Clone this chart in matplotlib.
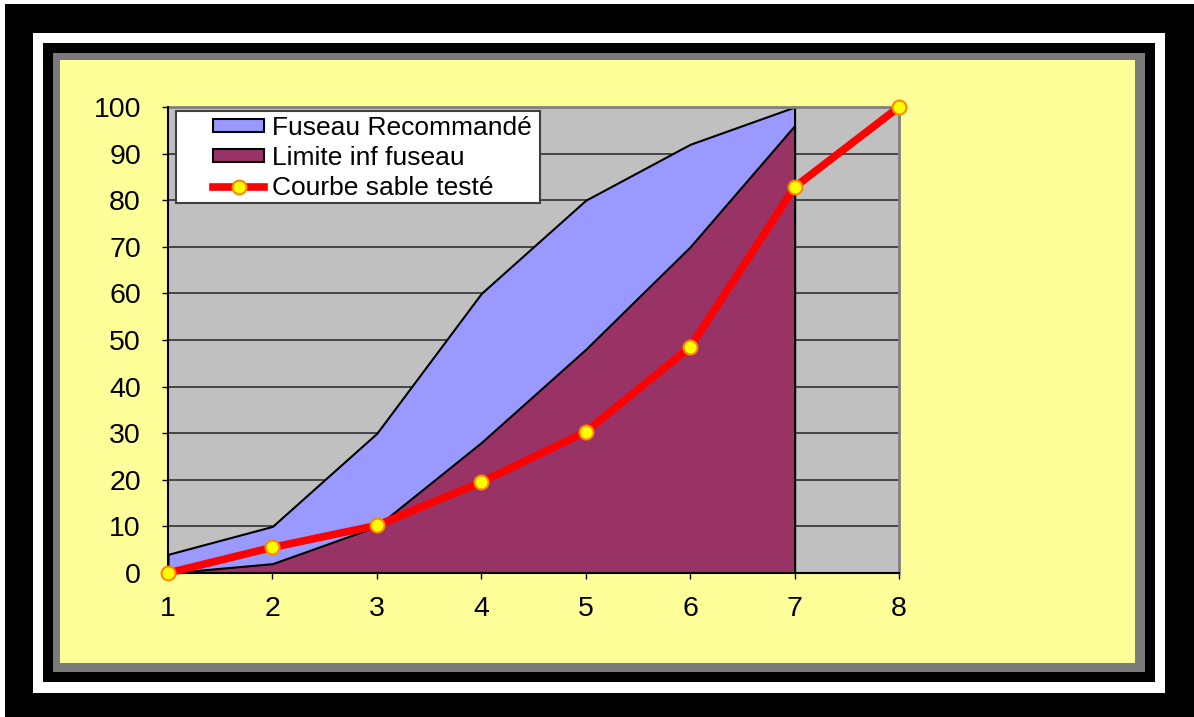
import matplotlib.pyplot as plt
from matplotlib.patches import Rectangle

# valeurs
x = [1, 2, 3, 4, 5, 6, 7, 8]
fuseau_sup = [4, 10, 30, 60, 80, 92, 100]
fuseau_inf = [0, 2, 10, 28, 48, 70, 96]
sable = [0, 5.5, 10.2, 19.5, 30.3, 48.5, 82.8, 100]
yticks = list(range(0, 101, 10))

plt.rcParams['font.family'] = ['Liberation Sans', 'DejaVu Sans']

W, H = 1194, 717
fig = plt.figure(figsize=(W / 100, H / 100), dpi=100, facecolor='white')


def cadre(x0, y0, x1, y1, color):
    # coordonnées en pixels, origine en haut à gauche
    fig.patches.append(Rectangle((x0 / W, 1 - y1 / H), (x1 - x0) / W, (y1 - y0) / H,
                                 transform=fig.transFigure, facecolor=color,
                                 edgecolor='none', zorder=-10))


cadre(5, 4, 1194, 717, 'black')
cadre(33, 33, 1165, 693, 'white')
cadre(43, 43, 1155, 682, 'black')
cadre(53, 53, 1145, 672, '#7a7a7a')
cadre(60, 60, 1135, 663, '#FFFF99')

ax = fig.add_axes([168 / W, 1 - 573 / H, (899 - 168) / W, (573 - 107) / H])
ax.set_facecolor('#C0C0C0')
ax.set_xlim(1, 8)
ax.set_ylim(0, 100)

for v in yticks[1:-1]:
    ax.axhline(v, color='#303030', lw=1.2, zorder=1)

ax.fill_between(x[:7], fuseau_sup, 0, facecolor='#9999FF', edgecolor='black',
                lw=1.5, zorder=2, label='Fuseau Recommandé')
ax.fill_between(x[:7], fuseau_inf, 0, facecolor='#993366', edgecolor='black',
                lw=1.5, zorder=3, label='Limite inf fuseau')
ax.plot(x, sable, color='#FF0000', lw=5.5, marker='o', markersize=10,
        markerfacecolor='#FFFF00', markeredgecolor='#FF8800', markeredgewidth=1.5,
        zorder=5, clip_on=False, label='Courbe sable testé')

ax.set_xticks(x)
ax.set_yticks(yticks)
ax.tick_params(axis='y', direction='out', length=4.5, width=1, pad=15, labelsize=20.5)
ax.tick_params(axis='x', direction='out', length=4.5, width=1, pad=12, labelsize=20.5)
for s in ['top', 'right']:
    ax.spines[s].set_color('#808080')
    ax.spines[s].set_linewidth(2)
for s in ['left', 'bottom']:
    ax.spines[s].set_color('black')
    ax.spines[s].set_linewidth(1.5)
    ax.spines[s].set_zorder(4)

# boîte de la légende
ax.add_patch(Rectangle(((176 - 168) / 731, (573 - 203) / 466), (540 - 176) / 731, (203 - 111) / 466,
                       transform=ax.transAxes, facecolor='white', edgecolor='#404040',
                       lw=1.5, zorder=6))
leg = ax.legend(loc='upper left', bbox_to_anchor=((213 - 168) / 731, (573 - 116) / 466),
                frameon=False, fontsize=19, handlelength=1.95, handleheight=0.4,
                handletextpad=0.3, labelspacing=0.22, borderpad=0, borderaxespad=0)
leg.set_zorder(7)

fig.savefig('out.png', dpi=100, facecolor=fig.get_facecolor())
